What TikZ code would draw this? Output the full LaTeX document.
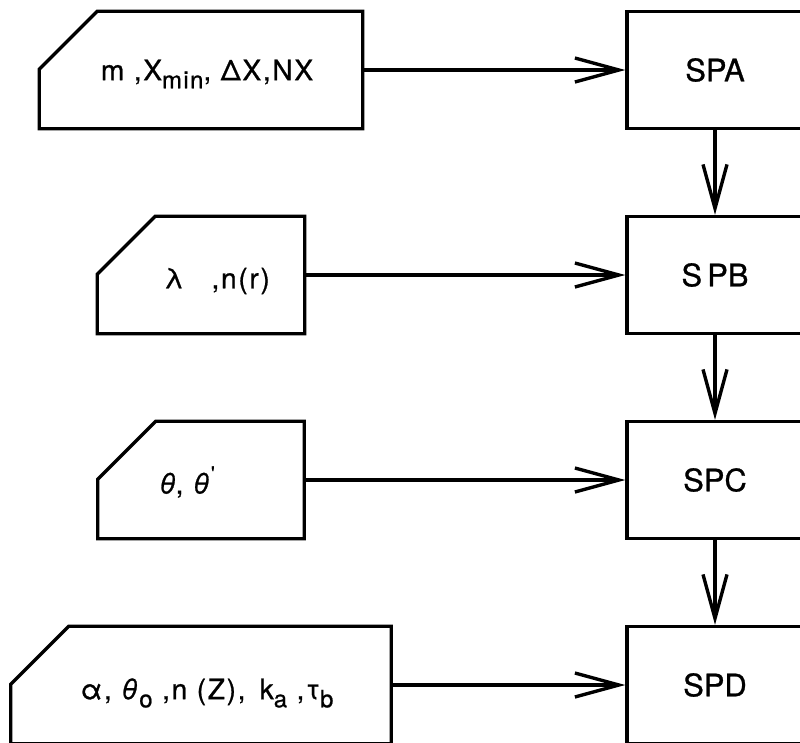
\documentclass[tikz,border=0pt]{standalone}
\usepackage{fontspec}
\setmainfont{TeX Gyre Heros}[FakeBold=0.8]
\usetikzlibrary{arrows.meta,positioning,calc}
\tikzstyle{l1}=[line width=2.4pt]
\tikzstyle{proc}=[rectangle, draw=black, l1, minimum width=4.4cm, minimum height=2.925cm, font=\fontsize{22}{26}\selectfont]
\tikzstyle{card}=[rectangle, minimum height=2.925cm, inner sep=0pt]
\tikzstyle{lbl}=[font=\fontsize{20}{24}\selectfont\addfontfeatures{LetterSpace=6}]
\tikzstyle{flow}=[l1, -{Straight Barb[length=1.1cm, width=0.6cm, line width=2.4pt]}]
\newcommand{\dn}[1]{\raisebox{-0.55ex}{\fontsize{17}{20}\selectfont #1}}
\newcommand{\up}[1]{\raisebox{0.9ex}{\fontsize{14}{16}\selectfont #1}}
% outline of an input card, corner cut off at top left
\newcommand{\cardline}[1]{\draw[l1] ([yshift=-1.45cm]#1.north west) -- ([xshift=1.45cm]#1.north west) -- (#1.north east) -- (#1.south east) -- (#1.south west) -- cycle;}

\begin{document}
\begin{tikzpicture}[node distance=5.125cm, on grid]

    \useasboundingbox (0,0) rectangle (20cm,-18.55cm);

    \node[proc] (spa) at (17.875cm,-1.75cm) {SPA};
    \node[proc] (spb) [below=of spa] {S\,PB};
    \node[proc] (spc) [below=of spb] {SPC};
    \node[proc] (spd) [below=of spc] {SPD};

    \node[card, minimum width=8.075cm] (inA) [left=12.85cm of spa] {};
    \node[card, minimum width=5.175cm] (inB) [left=12.85cm of spb] {};
    \node[card, minimum width=5.15cm]  (inC) [left=12.85cm of spc] {};
    \node[card, minimum width=9.5cm]   (inD) [left=12.85cm of spd] {};
    \cardline{inA}
    \cardline{inB}
    \cardline{inC}
    \cardline{inD}

    \node[lbl] (tA) at ($(inA)+(0.15cm,-0.1cm)$) {m ,X\dn{min}, ΔX,NX};
    \node[lbl] (tB) at ($(inB)+(0.4cm,-0.15cm)$) {λ\quad ,n(r)};
    \node[lbl] (tC) at ($(inC)+(-0.35cm,-0.05cm)$) {\textit{θ}, \textit{θ}\up{\textquotesingle}};
    \node[lbl] (tD) at ($(inD)+(0.15cm,-0.2cm)$) {α, \textit{θ}\dn{o} ,n (Z), \,k\dn{a} ,τ\dn{b}};

    \draw[flow] (inA) -- (spa);
    \draw[flow] (inB) -- (spb);
    \draw[flow] (inC) -- (spc);
    \draw[flow] (inD) -- (spd);

    \draw[flow] (spa) -- (spb);
    \draw[flow] (spb) -- (spc);
    \draw[flow] (spc) -- (spd);

\end{tikzpicture}
\end{document}
